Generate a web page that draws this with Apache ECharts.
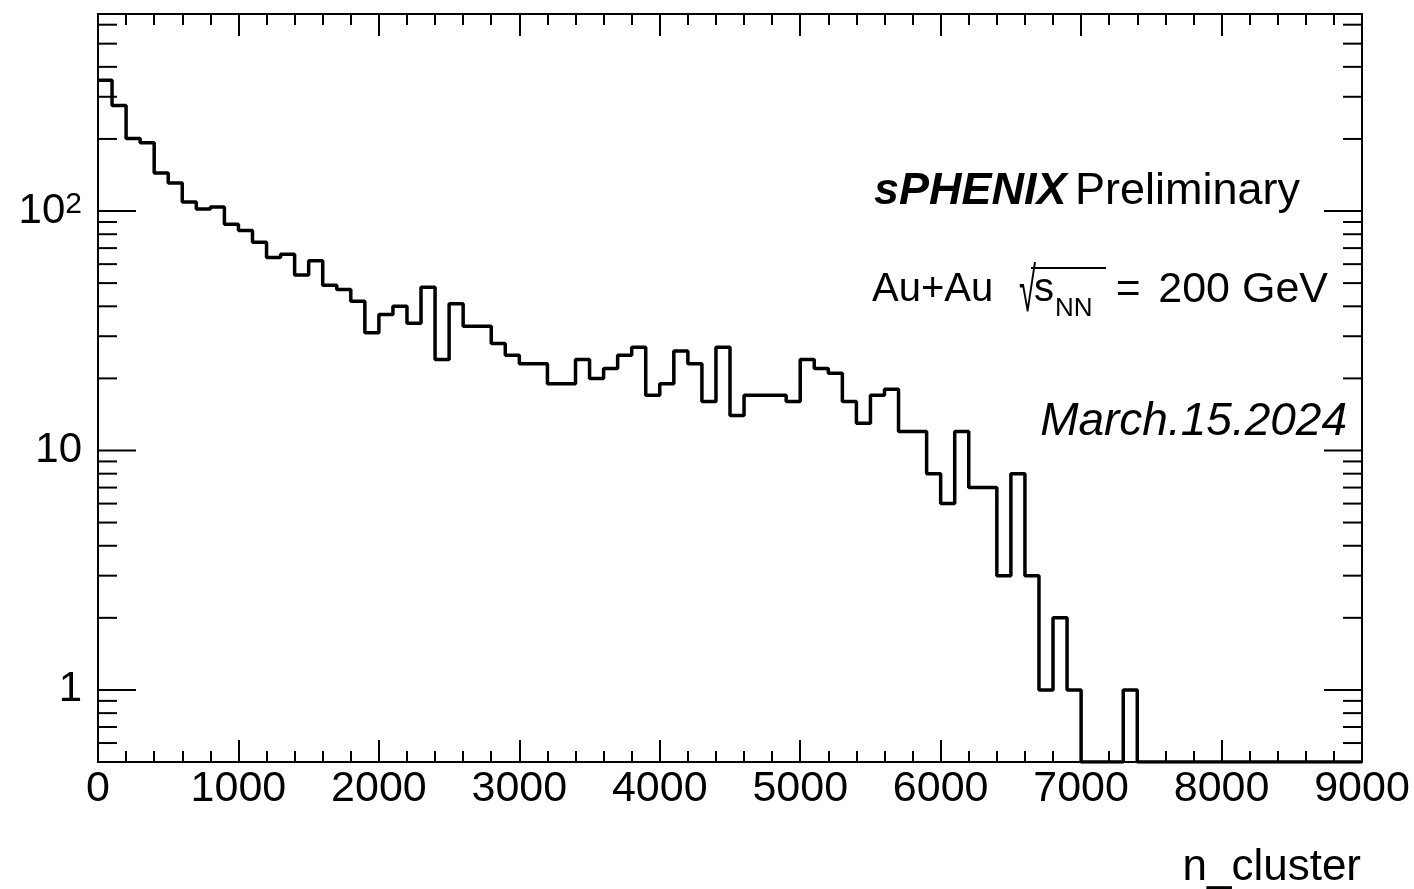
<!DOCTYPE html>
<html>
<head>
<meta charset="utf-8">
<script src="https://cdn.jsdelivr.net/npm/echarts@6/dist/echarts.min.js"></script>
<style>
html,body{margin:0;padding:0;background:#ffffff;}
#chart{width:1414px;height:889px;}
</style>
</head>
<body>
<div id="chart"></div>
<script>
// ---- data ----
const binWidth = 100;
const binLowEdges = [
  0,100,200,300,400,500,600,700,800,900,
  1000,1100,1200,1300,1400,1500,1600,1700,1800,1900,
  2000,2100,2200,2300,2400,2500,2600,2700,2800,2900,
  3000,3100,3200,3300,3400,3500,3600,3700,3800,3900,
  4000,4100,4200,4300,4400,4500,4600,4700,4800,4900,
  5000,5100,5200,5300,5400,5500,5600,5700,5800,5900,
  6000,6100,6200,6300,6400,6500,6600,6700,6800,6900,
  7000,7100,7200,7300,7400,7500,7600,7700,7800,7900,
  8000,8100,8200,8300,8400,8500,8600,8700,8800,8900
];
const counts = [
  352,276,201,193,144,131,109,102,104,88,
  83,74,64,66,54,62,49,47,42,31,
  37,40,34,48,24,41,33,33,28,25,
  23,23,19,19,24,20,22,25,27,17,
  19,26,23,16,27,14,17,17,17,16,
  24,22,21,16,13,17,18,12,12,8,
  6,12,7,7,3,8,3,1,2,1,
  0,0,0,1,0,0,0,0,0,0,
  0,0,0,0,0,0,0,0,0,0
];
const xTickValues = [0,1000,2000,3000,4000,5000,6000,7000,8000,9000];
const xTickLabels = ['0','1000','2000','3000','4000','5000','6000','7000','8000','9000'];
const yMajorTicks = [1, 10, 100];
const yMajorLabels = ['1', '10', '{b|10}{sup|2}'];
const yMinorTicks = [0.6,0.7,0.8,0.9,2,3,4,5,6,7,8,9,20,30,40,50,60,70,80,90,200,300,400,500,600];
const xTitle = 'n_cluster';

// ---- layout constants ----
const yMin = 0.5, yMax = 665;
const xMin = 0, xMax = 9000;
const FONT = 'Liberation Sans';

// histogram as step line: each bin drawn at its count from low edge to next edge
const stepData = binLowEdges.map((e, i) => [e, counts[i] > 0 ? counts[i] : yMin]);
stepData.push([binLowEdges[binLowEdges.length - 1] + binWidth, counts[counts.length - 1] > 0 ? counts[counts.length - 1] : yMin]);

const yTickData = yMajorTicks.map(v => [0, v, 1]).concat(yMinorTicks.map(v => [0, v, 0]));

function yLabel(v) {
  for (let i = 0; i < yMajorTicks.length; i++) {
    if (Math.abs(Math.log10(v) - Math.log10(yMajorTicks[i])) < 1e-6) return yMajorLabels[i];
  }
  return '';
}
function xLabel(v) {
  const i = xTickValues.indexOf(Math.round(v));
  return i >= 0 ? xTickLabels[i] : '';
}

const chart = echarts.init(document.getElementById('chart'), null, {renderer: 'canvas'});
const axisLineStyle = {color: '#000', width: 2};

const option = {
  animation: false,
  backgroundColor: '#ffffff',
  grid: {left: 98, right: 52, top: 14, bottom: 127, containLabel: false},
  xAxis: [
    {
      type: 'value', min: xMin, max: xMax, interval: 1000, position: 'bottom',
      axisLine: {show: true, onZero: false, lineStyle: axisLineStyle},
      axisTick: {show: true, inside: true, length: 22, lineStyle: axisLineStyle},
      minorTick: {show: true, splitNumber: 5, length: 11, lineStyle: axisLineStyle},
      splitLine: {show: false},
      axisLabel: {show: true, formatter: xLabel, margin: 6, color: '#000', fontSize: 43, fontFamily: FONT, showMinLabel: true, showMaxLabel: true}
    },
    {
      type: 'value', min: xMin, max: xMax, interval: 1000, position: 'top',
      axisLine: {show: true, onZero: false, lineStyle: axisLineStyle},
      axisTick: {show: true, inside: true, length: 22, lineStyle: axisLineStyle},
      minorTick: {show: true, splitNumber: 5, length: 11, lineStyle: axisLineStyle},
      splitLine: {show: false},
      axisLabel: {show: false}
    }
  ],
  yAxis: [
    {
      type: 'log', logBase: 10, min: yMin, max: yMax, position: 'left',
      axisLine: {show: true, onZero: false, lineStyle: axisLineStyle},
      axisTick: {show: false},
      splitLine: {show: false},
      axisLabel: {
        show: true, formatter: yLabel, margin: 16, color: '#000', fontSize: 42, fontFamily: FONT,
        showMinLabel: false, showMaxLabel: false,
        rich: {
          b: {fontSize: 42, fontFamily: FONT, color: '#000'},
          sup: {fontSize: 30, fontFamily: FONT, color: '#000', verticalAlign: 'top'}
        }
      }
    },
    {
      type: 'log', logBase: 10, min: yMin, max: yMax, position: 'right',
      axisLine: {show: true, onZero: false, lineStyle: axisLineStyle},
      axisTick: {show: false},
      splitLine: {show: false},
      axisLabel: {show: false}
    }
  ],
  series: [
    {
      type: 'line', name: 'n_cluster', xAxisIndex: 0, yAxisIndex: 0,
      data: stepData, step: 'end', showSymbol: false, symbol: 'none',
      lineStyle: {color: '#000', width: 3.5}, clip: true, z: 3
    },
    {
      type: 'custom', xAxisIndex: 0, yAxisIndex: 0, clip: false, silent: true, z: 4,
      data: yTickData,
      renderItem: function (params, api) {
        const v = api.value(1);
        const major = api.value(2) === 1;
        const y = api.coord([0, v])[1];
        const cs = params.coordSys;
        const len = major ? 38 : 19;
        return {
          type: 'group',
          children: [
            {type: 'line', shape: {x1: cs.x, y1: y, x2: cs.x + len, y2: y}, style: {stroke: '#000', lineWidth: 2}},
            {type: 'line', shape: {x1: cs.x + cs.width - len, y1: y, x2: cs.x + cs.width, y2: y}, style: {stroke: '#000', lineWidth: 2}}
          ]
        };
      }
    }
  ],
  graphic: [
    {type: 'text', x: 874, y: 192, style: {text: 'sPHENIX', fontFamily: FONT, fontSize: 45, fontWeight: 'bold', fontStyle: 'italic', fill: '#000', align: 'left', verticalAlign: 'middle'}},
    {type: 'text', x: 1075, y: 192, style: {text: 'Preliminary', fontFamily: FONT, fontSize: 45, fill: '#000', align: 'left', verticalAlign: 'middle'}},
    {type: 'text', x: 872, y: 290, style: {text: 'Au+Au', fontFamily: FONT, fontSize: 40, fill: '#000', align: 'left', verticalAlign: 'middle'}},
    {type: 'text', x: 1019, y: 294, scaleX: 0.5, style: {text: '\u221A', fontFamily: FONT, fontSize: 62, fill: '#000', align: 'left', verticalAlign: 'middle'}},
    {type: 'line', shape: {x1: 1031, y1: 268, x2: 1106, y2: 268}, style: {stroke: '#000', lineWidth: 2}},
    {type: 'text', x: 1034, y: 290, style: {text: 's', fontFamily: FONT, fontSize: 40, fill: '#000', align: 'left', verticalAlign: 'middle'}},
    {type: 'text', x: 1055, y: 309, style: {text: 'NN', fontFamily: FONT, fontSize: 26, fill: '#000', align: 'left', verticalAlign: 'middle'}},
    {type: 'text', x: 1116, y: 290, style: {text: '=', fontFamily: FONT, fontSize: 42, fill: '#000', align: 'left', verticalAlign: 'middle'}},
    {type: 'text', x: 1328, y: 290, style: {text: '200 GeV', fontFamily: FONT, fontSize: 43, fill: '#000', align: 'right', verticalAlign: 'middle'}},
    {type: 'text', x: 1347, y: 422, style: {text: 'March.15.2024', fontFamily: FONT, fontSize: 46, fontStyle: 'italic', fill: '#000', align: 'right', verticalAlign: 'middle'}},
    {type: 'text', x: 1361, y: 868, style: {text: xTitle, fontFamily: FONT, fontSize: 44, fill: '#000', align: 'right', verticalAlign: 'middle'}}
  ]
};
chart.setOption(option);
</script>
</body>
</html>
